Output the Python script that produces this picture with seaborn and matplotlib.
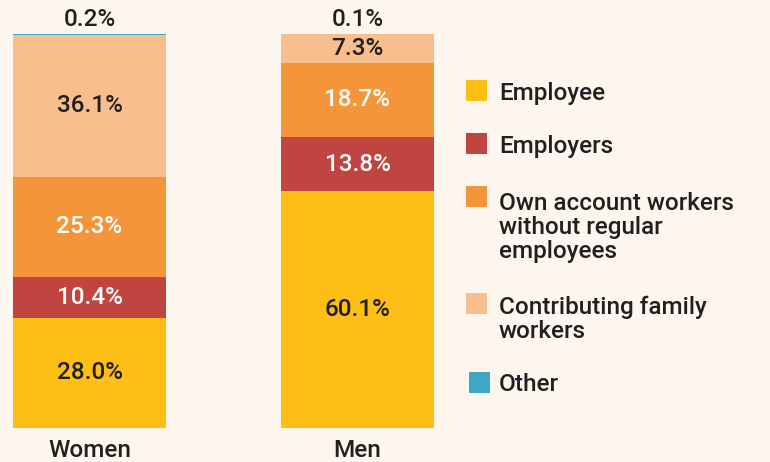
import matplotlib
matplotlib.use("Agg")
import matplotlib.pyplot as plt
import seaborn as sns
import pandas as pd
import numpy as np
from matplotlib.patches import Rectangle

groups = ["Women", "Men"]
categories = ["Employee", "Employers", "Own account workers\nwithout regular\nemployees",
              "Contributing family\nworkers", "Other"]
employee = [28.0, 60.1]
employers = [10.4, 13.8]
own_account = [25.3, 18.7]
contributing = [36.1, 7.3]
other = [0.2, 0.1]
colors = ["#FDBF16", "#C0443F", "#F5953A", "#F9BE8D", "#3DA7C4"]
text_colors = ["#231F20", "white", "white", "#231F20", "#231F20"]

BG = "#FDF6EF"
DARK = "#231F20"

sns.set_theme(style="white")
plt.rcParams["font.family"] = ["Roboto", "DejaVu Sans"]
plt.rcParams["font.weight"] = "medium"

series = [employee, employers, own_account, contributing, other]
cum = np.cumsum(np.array(series), axis=0)
bottoms = cum - np.array(series)

fig = plt.figure(figsize=(7.7, 4.62), dpi=100)
fig.patch.set_facecolor(BG)
ax = fig.add_axes([0, 34 / 462, 450 / 770, 394 / 462])
ax.set_facecolor(BG)

bar_w = 153 / 268
for i in reversed(range(len(series))):
    df = pd.DataFrame({"group": groups, "value": cum[i]})
    sns.barplot(data=df, x="group", y="value", color=colors[i], width=bar_w,
                saturation=1, ax=ax, linewidth=0)

FS = 17.5
for i, vals in enumerate(series):
    for j, v in enumerate(vals):
        if i == len(series) - 1:
            ax.annotate(f"{v:.1f}%", (j, cum[i][j]), xytext=(0, 2), textcoords="offset points",
                        ha="center", va="bottom", fontsize=FS, color=DARK, fontweight="medium")
        else:
            ax.text(j, bottoms[i][j] + v / 2, f"{v:.1f}%", ha="center", va="center",
                    fontsize=FS, color=text_colors[i], fontweight="medium")

ax.set_xlim(-89.5 / 268, 360.5 / 268)
ax.set_ylim(0, 100)
ax.set_xlabel("")
ax.set_ylabel("")
ax.set_yticks([])
ax.tick_params(axis="x", length=0, pad=8, labelsize=FS, labelcolor=DARK)
for lbl in ax.get_xticklabels():
    lbl.set_fontweight("medium")
for s in ax.spines.values():
    s.set_visible(False)

# legend
W, H = 770, 462
sq = 21
leg_y = [90, 143, 196, 303, 382]
baselines = [100, 153, 205, 311, 391]
line_px = 26.5
for i, lab in enumerate(categories):
    cy = leg_y[i]
    x0 = 466 if i < 4 else 469
    fig.patches.append(Rectangle((x0 / W, (H - cy - sq / 2) / H), sq / W, sq / H,
                                 transform=fig.transFigure, facecolor=colors[i],
                                 edgecolor="none"))
    n = lab.count("\n")
    fig.text(499 / W, (H - baselines[i] - n * line_px) / H, lab, ha="left", va="baseline",
             fontsize=FS, color=DARK, linespacing=1.05, fontweight="medium")

fig.savefig("out.png", dpi=100, facecolor=BG)
